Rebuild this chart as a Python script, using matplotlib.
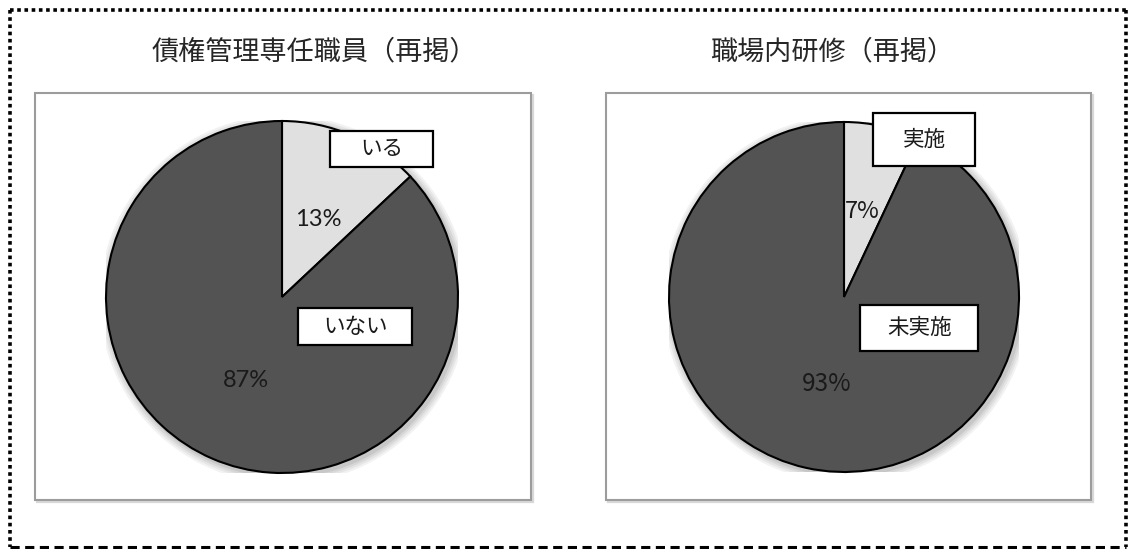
import matplotlib
matplotlib.use("Agg")
import matplotlib.pyplot as plt
from matplotlib.patches import Rectangle, Circle

plt.rcParams['font.family'] = ['Noto Sans CJK JP', 'DejaVu Sans']

# --- data ---
titles = ["債権管理専任職員（再掲）", "職場内研修（再掲）"]
labels_left = ["いる", "いない"]
values_left = [13, 87]
labels_right = ["実施", "未実施"]
values_right = [7, 93]

LIGHT = "#e0e0e0"
DARK = "#535353"
TEXT = "#1a1a1a"

W, H = 1128, 549
fig = plt.figure(figsize=(W / 100, H / 100), dpi=100)

# background layer in pixel coordinates
bg = fig.add_axes([0, 0, 1, 1])
bg.set_xlim(0, W)
bg.set_ylim(H, 0)
bg.axis("off")

# outer frame: dotted top/left/right, dashed bottom
dot = dict(color="black", lw=2.6, linestyle=(0, (1, 1)), solid_capstyle="butt")
bg.plot([9.5, 1126], [9.5, 9.5], **dot)
bg.plot([9.5, 9.5], [9.5, 547], **dot)
bg.plot([1126, 1126], [9.5, 547], **dot)
bg.plot([9.5, 1126], [547, 547], color="black", lw=2.2,
        linestyle=(0, (3, 1.8)), solid_capstyle="butt")

# chart panels with a faint shadow
for x0, x1 in [(35, 531), (606, 1091)]:
    bg.add_patch(Rectangle((x0 + 1.5, 94.5), x1 - x0, 407, facecolor="none",
                           edgecolor="#d8d8d8", lw=1.6))
    bg.add_patch(Rectangle((x0, 93), x1 - x0, 407, facecolor="white",
                           edgecolor="#9c9c9c", lw=1.5))

# titles
bg.text(314, 52, titles[0], ha="center", va="center", fontsize=19.5, color="#262626")
bg.text(832, 52, titles[1], ha="center", va="center", fontsize=19.5, color="#262626")


def pie_axes(cx, cy, r):
    ax = fig.add_axes([(cx - r) / W, (H - cy - r) / H, 2 * r / W, 2 * r / H])
    ax.set_xlim(-1, 1)
    ax.set_ylim(-1, 1)
    ax.axis("off")
    # soft drop shadow
    for k, a in enumerate([0.05, 0.05, 0.06, 0.07]):
        ax.add_patch(Circle((0.012, -0.014), 1.0 + 0.012 * (4 - k),
                            facecolor="black", alpha=a, lw=0, zorder=0))
    return ax


def label_box(ax, x, y, w, h, r, text, size):
    ax.add_patch(Rectangle((x - w / 2 / r, y - h / 2 / r), w / r, h / r,
                           facecolor="white", edgecolor="black", lw=1.6,
                           zorder=5, clip_on=False))
    ax.text(x, y, text, ha="center", va="center", fontsize=size,
            color=TEXT, zorder=6)


# left pie
r1 = 176
ax1 = pie_axes(282, 297, r1)
ax1.pie(values_left, colors=[LIGHT, DARK], startangle=90, counterclock=False,
        radius=1.0, wedgeprops=dict(edgecolor="black", linewidth=1.5),
        frame=False)
ax1.set_xlim(-1, 1)
ax1.set_ylim(-1, 1)
label_box(ax1, 0.565, 0.841, 103, 36, r1, labels_left[0], 15.5)
label_box(ax1, 0.415, -0.168, 114, 37, r1, labels_left[1], 15.5)
ax1.text(0.205, 0.443, f"{values_left[0]}%", ha="center", va="center",
         fontsize=17, family="Lato", color=TEXT, zorder=6)
ax1.text(-0.205, -0.477, f"{values_left[1]}%", ha="center", va="center",
         fontsize=17, family="Lato", color=TEXT, zorder=6)

# right pie
r2 = 175
ax2 = pie_axes(844, 297, r2)
ax2.pie(values_right, colors=[LIGHT, DARK], startangle=90, counterclock=False,
        radius=1.0, wedgeprops=dict(edgecolor="black", linewidth=1.5),
        frame=False)
ax2.set_xlim(-1, 1)
ax2.set_ylim(-1, 1)
label_box(ax2, 0.457, 0.90, 102, 53, r2, labels_right[0], 15.5)
label_box(ax2, 0.429, -0.177, 118, 46, r2, labels_right[1], 15.5)
ax2.text(0.105, 0.486, f"{values_right[0]}%", ha="center", va="center",
         fontsize=17, color=TEXT, zorder=6)
ax2.text(-0.097, -0.497, f"{values_right[1]}%", ha="center", va="center",
         fontsize=17.5, color=TEXT, zorder=6)

fig.savefig("out.png", dpi=100)
